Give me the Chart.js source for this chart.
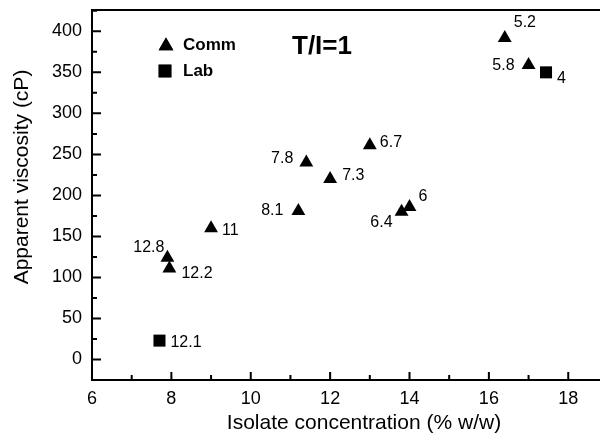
<!DOCTYPE html>
<html>
<head>
<meta charset="utf-8">
<script src="https://cdn.jsdelivr.net/npm/chart.js@4/dist/chart.umd.min.js"></script>
<style>
   html, body { margin: 0; padding: 0; background: #fff; }
</style>
</head>
<body>
<canvas id="chart" width="600" height="443"></canvas>
<script>
// Données
const commX = [16.4, 17.0, 13.0, 11.4, 12.0, 11.2, 13.8, 14.0, 9.0, 7.9, 7.95];
const commY = [392, 359, 261, 240, 220, 181, 180, 186, 160, 124, 111];
const commLabels = ['5.2', '5.8', '6.7', '7.8', '7.3', '8.1', '6.4', '6', '11', '12.8', '12.2'];

const labX = [17.44, 7.7];
const labY = [350, 23];
const labLabels = ['4', '12.1'];

const xTicks = [6, 8, 10, 12, 14, 16, 18];
const yTicks = [0, 50, 100, 150, 200, 250, 300, 350, 400];

// Décalage des étiquettes (pixels) et alignement
const commOffsets = [[9, -15, 'left'], [-14, 1, 'right'], [10, -3, 'left'], [-13, -4, 'right'], [12, -3, 'left'],
   [-15, 0, 'right'], [-9, 11, 'right'], [9, -10, 'left'], [11, 2, 'left'], [-3, -10, 'right'], [12, 5, 'left']];
const labOffsets = [[11, 6, 'left'], [11, 2, 'left']];

const FONT = "'Liberation Sans', Arial, sans-serif";

function toPoints(xs, ys) {
   return xs.map((x, i) => ({x: x, y: ys[i]}));
}

// Pas de marge automatique autour des axes
function noPadding(scale) {
   scale.paddingTop = 0;
   scale.paddingBottom = 0;
   scale.paddingLeft = 0;
   scale.paddingRight = 0;
}

// Graduations vers l'intérieur, cadre du haut, titres, étiquettes et légende
const decorPlugin = {
   id: 'decor',
   afterDraw(chart) {
      const ctx = chart.ctx;
      const area = chart.chartArea;
      const xs = chart.scales.x;
      const ys = chart.scales.y;
      ctx.save();
      ctx.strokeStyle = '#000';
      ctx.lineWidth = 2;
      ctx.beginPath();
      // cadre du haut
      ctx.moveTo(area.left, area.top);
      ctx.lineTo(area.right, area.top);
      // graduations x
      for (let i = 0; i < xTicks.length; i++) {
         const px = xs.getPixelForValue(xTicks[i]);
         ctx.moveTo(px, area.bottom);
         ctx.lineTo(px, area.bottom - 8);
         const mx = xs.getPixelForValue(xTicks[i] + 1);
         if (mx < area.right) {
            ctx.moveTo(mx, area.bottom);
            ctx.lineTo(mx, area.bottom - 5);
         }
      }
      // graduations y
      for (let i = 0; i < yTicks.length; i++) {
         const py = ys.getPixelForValue(yTicks[i]);
         ctx.moveTo(area.left, py);
         ctx.lineTo(area.left + 9, py);
         const my = ys.getPixelForValue(yTicks[i] + 25);
         if (my > area.top) {
            ctx.moveTo(area.left, my);
            ctx.lineTo(area.left + 5, my);
         }
      }
      ctx.stroke();

      // titres des axes
      ctx.fillStyle = '#000';
      ctx.textBaseline = 'middle';
      ctx.textAlign = 'center';
      ctx.font = '21px ' + FONT;
      ctx.fillText('Isolate concentration (% w/w)', 364, 423);
      ctx.save();
      ctx.translate(22, 177);
      ctx.rotate(-Math.PI / 2);
      ctx.fillText('Apparent viscosity (cP)', 0, 0);
      ctx.restore();

      // étiquettes des points
      ctx.font = '16px ' + FONT;
      const sets = [[0, commLabels, commOffsets], [1, labLabels, labOffsets]];
      sets.forEach(([idx, labels, offsets]) => {
         const meta = chart.getDatasetMeta(idx);
         meta.data.forEach((pt, i) => {
            const o = offsets[i];
            ctx.textAlign = o[2];
            ctx.fillText(labels[i], pt.x + o[0], pt.y + o[1]);
         });
      });

      // légende
      Chart.helpers.drawPoint(ctx, {pointStyle: 'triangle', radius: 8.5, rotation: 0, borderWidth: 0}, 166, 46);
      ctx.fill();
      Chart.helpers.drawPoint(ctx, {pointStyle: 'rect', radius: 9, rotation: 0, borderWidth: 0}, 165, 71);
      ctx.fill();
      ctx.font = 'bold 17px ' + FONT;
      ctx.textAlign = 'left';
      ctx.fillText('Comm', 183, 45);
      ctx.fillText('Lab', 183, 71);
      ctx.font = 'bold 26px ' + FONT;
      ctx.fillText('T/I=1', 292, 47);
      ctx.restore();
   }
};

const chart = new Chart(document.getElementById('chart'), {
   type: 'scatter',
   data: {
      datasets: [{
         label: 'Comm',
         data: toPoints(commX, commY),
         pointStyle: 'triangle',
         pointRadius: 8,
         backgroundColor: '#000',
         borderColor: '#000',
         borderWidth: 0
      }, {
         label: 'Lab',
         data: toPoints(labX, labY),
         pointStyle: 'rect',
         pointRadius: 8.5,
         backgroundColor: '#000',
         borderColor: '#000',
         borderWidth: 0
      }]
   },
   options: {
      responsive: false,
      animation: false,
      devicePixelRatio: 1,
      layout: {
         autoPadding: false,
         padding: {top: 10, right: 0, left: 0, bottom: 0}
      },
      plugins: {
         legend: { display: false },
         tooltip: { enabled: false }
      },
      scales: {
         x: {
            type: 'linear',
            min: 6,
            max: 18.8,
            afterBuildTicks: (scale) => { scale.ticks = xTicks.map(v => ({value: v})); },
            afterFit: (scale) => { scale.height = 63; noPadding(scale); },
            grid: { display: false, drawTicks: false },
            border: { display: true, color: '#000', width: 2 },
            ticks: {
               color: '#000',
               padding: 8,
               maxRotation: 0,
               font: { family: FONT, size: 18 }
            }
         },
         y: {
            type: 'linear',
            min: -25,
            max: 426,
            afterBuildTicks: (scale) => { scale.ticks = yTicks.map(v => ({value: v})); },
            afterFit: (scale) => { scale.width = 92; noPadding(scale); },
            grid: { display: false, drawTicks: false },
            border: { display: true, color: '#000', width: 2 },
            ticks: {
               color: '#000',
               padding: 10,
               font: { family: FONT, size: 18 }
            }
         }
      }
   },
   plugins: [decorPlugin]
});
</script>
</body>
</html>
